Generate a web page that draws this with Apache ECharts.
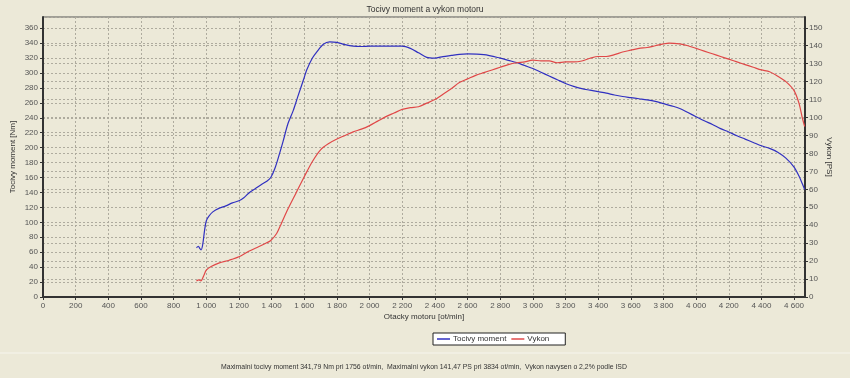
<!DOCTYPE html>
<html>
<head>
<meta charset="utf-8">
<script src="https://cdn.jsdelivr.net/npm/echarts@6/dist/echarts.min.js"></script>
<style>
  html, body { margin: 0; padding: 0; background: #ece9d8; }
  #chart { width: 850px; height: 378px; }
</style>
</head>
<body>
<div id="chart"></div>
<script>
// otacky [ot/min] a tocivy moment [Nm]
const momentData = [
  [940,66],[952,68],[960,65],[968,63],[978,70],[990,90],[1000,102],[1015,108],[1040,114],
  [1080,119],[1120,122],[1160,126],[1200,129],[1230,133],[1260,139],[1300,145],[1340,151],
  [1370,155],[1395,160],[1420,172],[1450,193],[1470,208],[1500,232],[1533,250],[1560,268],
  [1600,294],[1615,304],[1650,320],[1676,328],[1717,338.5],[1756,341.79],[1800,341],[1850,338],
  [1900,336],[1950,335.5],[2000,336],[2100,336],[2200,336],[2250,333],[2300,327],[2350,321],
  [2400,320],[2450,322],[2500,323.5],[2550,325],[2600,325.5],[2700,324.5],[2800,320],[2850,317],
  [2900,314],[2950,310],[3000,306],[3050,301],[3100,296],[3150,291],[3200,286],[3250,282],
  [3300,279],[3350,277],[3400,275],[3450,273],[3500,270.5],[3550,268.5],[3600,267],[3650,265.5],
  [3700,264],[3750,262],[3800,259],[3850,256],[3900,252.5],[3950,247],[4000,241.5],[4050,236],
  [4100,231],[4150,225.5],[4200,221],[4250,216],[4300,211.5],[4350,207],[4400,202.5],[4450,199],
  [4500,194],[4550,186],[4600,174],[4630,162],[4650,152],[4665,144]
];
// otacky [ot/min] a vykon [PS]
const vykonData = [
  [940,9],[955,9.5],[967,9],[985,12],[1000,15],[1030,17],[1080,19],[1140,20.5],[1200,22.4],
  [1260,25.5],[1320,28],[1370,30.2],[1395,31.5],[1431,35.4],[1460,41],[1500,49],[1550,58],
  [1600,67],[1650,75.5],[1700,82],[1750,85.5],[1800,88],[1850,90],[1900,92],[1950,93.5],
  [2000,95.5],[2050,98],[2100,100.5],[2150,102.5],[2200,104.5],[2250,105.5],[2300,106],
  [2350,108],[2400,110],[2450,113],[2500,116],[2550,119.5],[2600,121.5],[2650,123.5],
  [2700,125],[2750,126.5],[2800,128],[2850,129.5],[2900,130.5],[2950,131],[3000,132],
  [3050,131.5],[3100,131.5],[3150,130.5],[3200,131],[3250,131],[3300,131.5],[3350,133],
  [3400,134],[3450,134],[3500,135],[3550,136.5],[3600,137.5],[3650,138.5],[3700,139],
  [3750,140],[3800,141],[3834,141.47],[3900,141],[3950,140],[4000,138.5],[4050,137],
  [4100,135.5],[4150,134],[4200,132.5],[4250,131],[4300,129.5],[4350,128],[4400,126.5],
  [4450,125.5],[4500,123],[4550,120],[4600,115],[4630,108],[4650,100],[4665,95]
];
const nazvySerii = ['Tocivy moment', 'Vykon'];
const souhrn = 'Maximalni tocivy moment 341,79 Nm pri 1756 ot/min,  Maximalni vykon 141,47 PS pri 3834 ot/min,  Vykon navysen o 2,2% podle ISD';

let font = '"Liberation Sans", Arial, sans-serif';
let gridLine = { show: true, lineStyle: { color: '#aeab9e', type: [2, 2], width: 1 } };
let axisLbl = { color: '#555', fontSize: 8, fontFamily: font };

let myChart = echarts.init(document.getElementById('chart'));
let option = {
  backgroundColor: '#ece9d8',
  animation: false,
  title: {
    text: 'Tocivy moment a vykon motoru',
    left: 'center',
    top: 0,
    textStyle: { fontSize: 8.5, fontWeight: 'normal', color: '#333', fontFamily: font }
  },
  legend: {
    data: nazvySerii,
    left: 433,
    top: 333,
    backgroundColor: '#fff',
    borderColor: '#222',
    borderWidth: 1,
    borderRadius: 0,
    padding: [2, 16, 2, 4],
    itemWidth: 13,
    itemHeight: 1.5,
    itemGap: 5,
    icon: 'rect',
    textStyle: { fontSize: 8, color: '#333', fontFamily: font, padding: [0, 0, 0, -2] }
  },
  grid: {
    left: 43, right: 45, top: 17, bottom: 81,
    outerBoundsMode: 'none',
    containLabel: false,
    show: true,
    backgroundColor: '#ece9d8',
    borderColor: '#555',
    borderWidth: 1
  },
  graphic: [
    { type: 'line', shape: { x1: 0, y1: 353, x2: 850, y2: 353 }, style: { stroke: '#f6f5ee', lineWidth: 1 } },
    { type: 'text', x: 424, y: 367, scaleX: 0.86,
      style: { text: souhrn, fontSize: 8, fill: '#333', fontFamily: font,
        align: 'center', verticalAlign: 'middle' } }
  ],
  xAxis: {
    type: 'value',
    min: 0, max: 4667, interval: 200,
    name: 'Otacky motoru [ot/min]',
    nameLocation: 'middle',
    nameGap: 16,
    nameMoveOverlap: false,
    nameTextStyle: { fontSize: 8, color: '#333', fontFamily: font },
    axisLine: { lineStyle: { color: '#333', width: 2 } },
    axisTick: { show: true, length: 3, lineStyle: { color: '#333' } },
    axisLabel: Object.assign({ showMaxLabel: false, margin: 5,
      formatter: (v) => String(v).replace(/\B(?=(\d{3})+(?!\d))/g, ' ') }, axisLbl),
    splitLine: gridLine
  },
  yAxis: [
    {
      type: 'value',
      min: 0, max: 375, interval: 20,
      name: 'Tocivy moment [Nm]',
      nameLocation: 'middle',
      nameGap: 26,
      nameMoveOverlap: false,
      nameTextStyle: { fontSize: 8, color: '#333', fontFamily: font },
      axisLine: { show: true, lineStyle: { color: '#333', width: 2 } },
      axisTick: { show: true, length: 3, lineStyle: { color: '#333' } },
      axisLabel: Object.assign({ showMaxLabel: false, margin: 5 }, axisLbl),
      splitLine: gridLine
    },
    {
      type: 'value',
      min: 0, max: 156, interval: 10,
      name: 'Vykon [PS]',
      nameLocation: 'middle',
      nameGap: 20,
      nameMoveOverlap: false,
      nameRotate: -90,
      nameTextStyle: { fontSize: 8, color: '#333', fontFamily: font },
      axisLine: { show: true, lineStyle: { color: '#333', width: 2 } },
      axisTick: { show: true, length: 3, lineStyle: { color: '#333' } },
      axisLabel: Object.assign({ showMaxLabel: false, margin: 4 }, axisLbl),
      splitLine: gridLine
    }
  ],
  series: [
    {
      name: nazvySerii[0],
      type: 'line',
      yAxisIndex: 0,
      showSymbol: false,
      smooth: 0.3,
      lineStyle: { color: '#3030c0', width: 1.2 },
      itemStyle: { color: '#3030c0' },
      data: momentData
    },
    {
      name: nazvySerii[1],
      type: 'line',
      yAxisIndex: 1,
      showSymbol: false,
      smooth: 0.3,
      lineStyle: { color: '#e04848', width: 1.2 },
      itemStyle: { color: '#e04848' },
      data: vykonData
    }
  ]
};
myChart.setOption(option);
window.addEventListener('resize', function () {
  myChart.resize();
});
</script>
</body>
</html>
